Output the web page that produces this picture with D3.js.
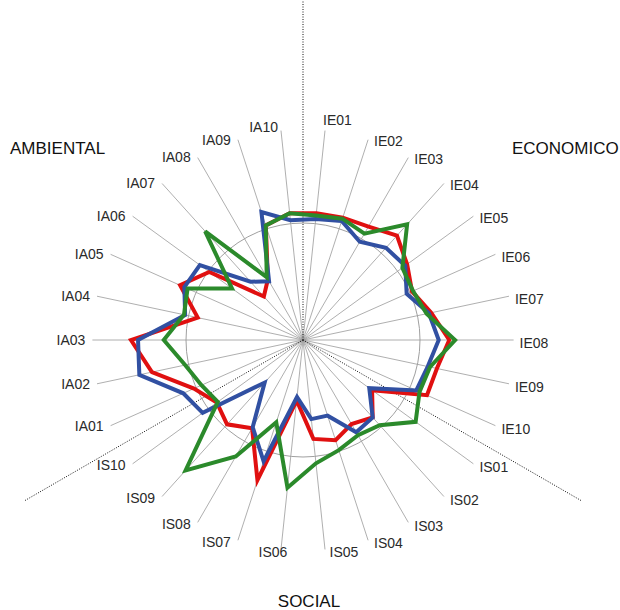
<!DOCTYPE html>
<html>
<head>
<meta charset="utf-8">
<script src="https://cdn.jsdelivr.net/npm/d3@7"></script>
<style>
  html, body { margin: 0; padding: 0; background: #fff; }
  svg { display: block; font-family: "Liberation Sans", Arial, sans-serif; }
</style>
</head>
<body>
<svg id="chart" width="620" height="610"></svg>
<script>
// Indicator codes, clockwise from the top
const categories = [
  "IE01","IE02","IE03","IE04","IE05","IE06","IE07","IE08","IE09","IE10",
  "IS01","IS02","IS03","IS04","IS05","IS06","IS07","IS08","IS09","IS10",
  "IA01","IA02","IA03","IA04","IA05","IA06","IA07","IA08","IA09","IA10"
];

// Indicator scores (reference level = 100)
const seriesRed = [
  109, 110, 112, 120, 110, 102, 112, 125, 117, 116,
   73,  89,  83,  90,  85,  52, 126,  87,  97,  91,
  102, 132, 147,  92, 115,  99,  50,  60, 103, 109
];
const seriesBlue = [
  104, 107,  97, 106, 108,  97, 110, 116, 109, 106,
   70,  89,  91,  68,  68,  49, 109,  86,  49, 106,
  112, 143, 141, 103, 111, 109,  67,  58, 115, 103
];
const seriesGreen = [
  107, 109, 105, 133, 105, 103, 108, 130, 111, 109,
  119,  98,  94,  99, 106, 127,  74, 115, 150,  90,
   95, 103, 119, 104, 108,  75, 125,  62, 103, 109
];

const sectorNames = ["ECONOMICO", "SOCIAL", "AMBIENTAL"];
const referenceLevel = 100;
const axisMax = 180;

const svg = d3.select("#chart");
const cx = 303, cy = 340;
const g = svg.append("g").attr("transform", `translate(${cx},${cy})`);

const r = d3.scaleLinear().domain([0, axisMax]).range([0, 210.6]);
const step = 2 * Math.PI / categories.length;
const angle = i => (i + 0.5) * step;

// Reference circle
g.append("circle")
  .attr("r", r(referenceLevel))
  .attr("fill", "none")
  .attr("stroke", "#a0a0a0")
  .attr("stroke-width", 1);

// Spokes
g.selectAll("line.spoke")
  .data(categories)
  .join("line")
  .attr("class", "spoke")
  .attr("x1", 0).attr("y1", 0)
  .attr("x2", (d, i) => r(axisMax) * Math.sin(angle(i)))
  .attr("y2", (d, i) => -r(axisMax) * Math.cos(angle(i)))
  .attr("stroke", "#9a9a9a")
  .attr("stroke-width", 0.8);

// Sector dividers (dotted)
const dividers = [0, 1, 2].map(k => k * 2 * Math.PI / 3);
g.selectAll("line.divider")
  .data(dividers)
  .join("line")
  .attr("class", "divider")
  .attr("x1", 0).attr("y1", 0)
  .attr("x2", a => (a === 0 ? cy : 322) * Math.sin(a))
  .attr("y2", a => -(a === 0 ? cy : 322) * Math.cos(a))
  .attr("stroke", "#111")
  .attr("stroke-width", 1)
  .attr("stroke-dasharray", "1,1.5");

// Series polygons
const radial = d3.lineRadial()
  .angle((d, i) => angle(i))
  .radius(d => r(d))
  .curve(d3.curveLinearClosed);

const series = [
  { values: seriesRed,   color: "#e01010" },
  { values: seriesBlue,  color: "#3150a2" },
  { values: seriesGreen, color: "#2b8a2b" }
];
g.selectAll("path.series")
  .data(series)
  .join("path")
  .attr("class", "series")
  .attr("d", d => radial(d.values))
  .attr("fill", "none")
  .attr("stroke", d => d.color)
  .attr("stroke-width", 4)
  .attr("stroke-linejoin", "miter");

// Indicator labels at the spoke ends
g.selectAll("text.cat")
  .data(categories)
  .join("text")
  .attr("class", "cat")
  .each(function (d, i) {
    const a = angle(i);
    const s = Math.sin(a), c = Math.cos(a);
    const ex = r(axisMax) * s, ey = -r(axisMax) * c;
    const t = d3.select(this);
    if (Math.abs(s) < 0.2 && c > 0) {
      // near the top: label sits above the spoke end
      t.attr("x", ex + (s > 0 ? -2 : -3))
       .attr("y", ey - 2 - 30 * s)
       .attr("text-anchor", s > 0 ? "start" : "end");
    } else if (Math.abs(s) < 0.2) {
      // near the bottom: label hangs below the spoke end
      t.attr("x", ex + 5.5 + 13.5 * Math.sign(s))
       .attr("y", ey + 1.5 + 1.8 * s - 1.2 * c + 5)
       .attr("text-anchor", "middle");
    } else {
      t.attr("x", ex + (s > 0 ? 6 : -7))
       .attr("y", ey + 1.5 + 1.8 * s - 1.2 * c + 5)
       .attr("text-anchor", s > 0 ? "start" : "end");
    }
  })
  .attr("font-size", 14)
  .attr("fill", "#2a2a2a")
  .text(d => d);

// Sector titles
svg.append("text").attr("x", 512).attr("y", 154)
  .attr("font-size", 17).attr("fill", "#111").text(sectorNames[0]);
svg.append("text").attr("x", 309).attr("y", 607)
  .attr("text-anchor", "middle")
  .attr("font-size", 17).attr("fill", "#111").text(sectorNames[1]);
svg.append("text").attr("x", 10).attr("y", 154)
  .attr("font-size", 17).attr("fill", "#111").text(sectorNames[2]);
</script>
</body>
</html>
